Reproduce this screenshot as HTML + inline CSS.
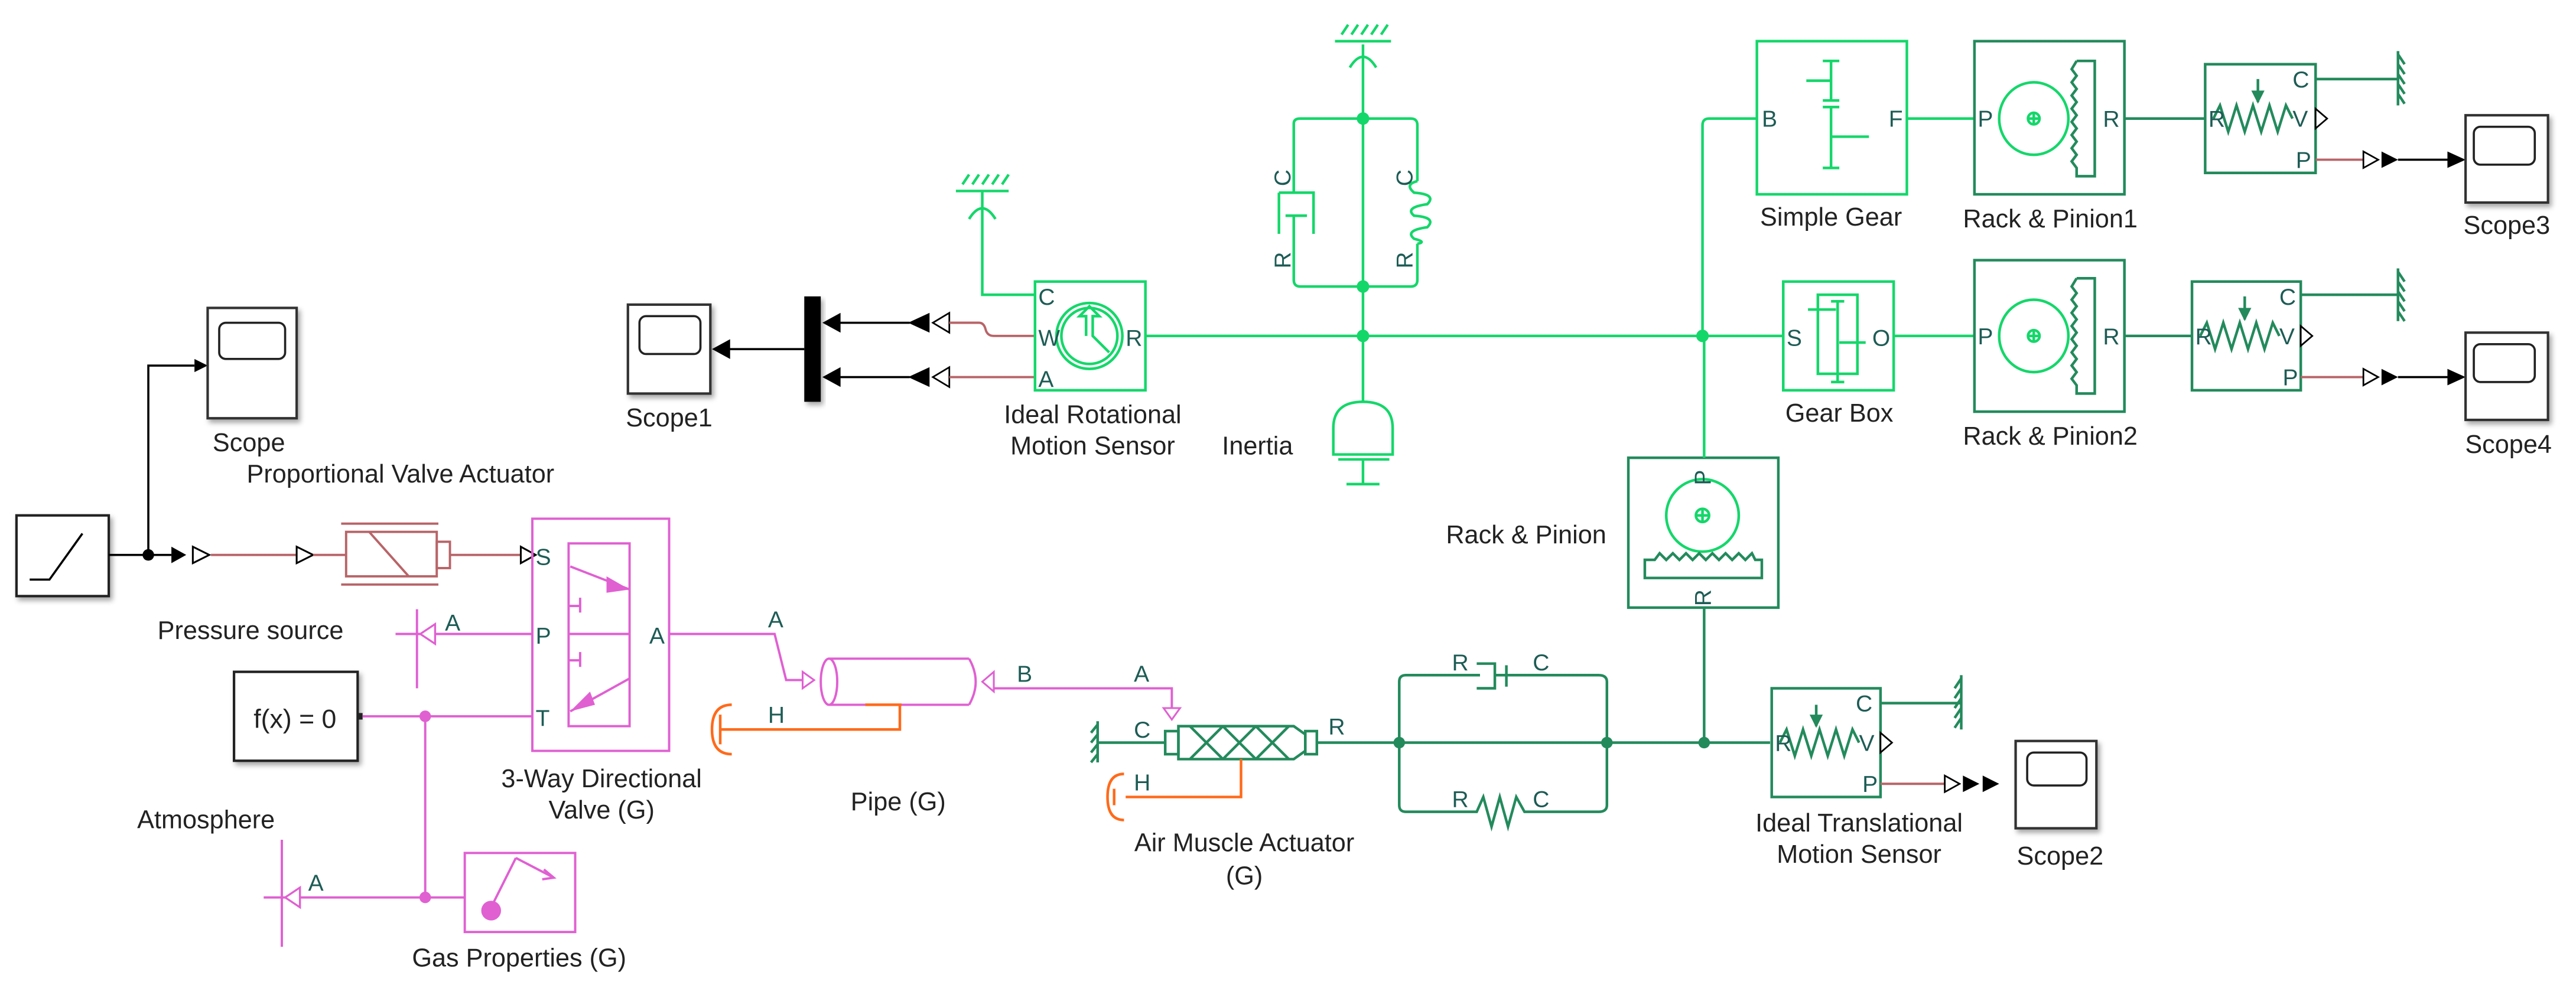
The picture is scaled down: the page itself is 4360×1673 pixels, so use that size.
<!DOCTYPE html>
<html><head><meta charset="utf-8"><style>
html,body{margin:0;padding:0;background:#fff;}
svg{display:block;}
text{font-family:"Liberation Sans",sans-serif;}
.lb{font-size:15.5px;fill:#222;text-anchor:middle;}
.pt{font-size:14px;fill:#1d5c55;}
.g{stroke:#14d76a;fill:none;stroke-width:1.6;}
.d{stroke:#238a5c;fill:none;stroke-width:1.6;}
.m{stroke:#e060d2;fill:none;stroke-width:1.4;}
.o{stroke:#ff6a1a;fill:none;stroke-width:1.6;}
.b{stroke:#b86468;fill:none;stroke-width:1.4;}
.k{stroke:#000;fill:none;stroke-width:1.3;}
</style></head><body>
<svg width="4360" height="1673" viewBox="0 0 1563 600" preserveAspectRatio="none" xmlns="http://www.w3.org/2000/svg">
<defs>
<filter id="sh" x="-20%" y="-20%" width="150%" height="150%"><feDropShadow dx="1.5" dy="2" stdDeviation="1.5" flood-color="#000" flood-opacity="0.35"/></filter>
</defs>

<!-- ===== Ramp & scope ===== -->
<rect x="10" y="313" width="56" height="49" fill="#fff" stroke="#222" stroke-width="1.5" filter="url(#sh)"/>
<polyline points="18,352 30,352 50,324" class="k"/>
<line x1="66" y1="337" x2="104" y2="337" class="k"/>
<circle cx="90" cy="337" r="3.5" fill="#000"/>
<polyline points="90,337 90,222 118,222" class="k"/>
<polygon points="118,218 126,222 118,226" fill="#000"/>
<rect x="126" y="187" width="54" height="67" fill="#fff" stroke="#333" stroke-width="1.5" filter="url(#sh)"/>
<rect x="133" y="196" width="40" height="22" rx="4" fill="#fff" stroke="#222" stroke-width="1.3"/>
<text x="151" y="274" class="lb">Scope</text>
<polygon points="104,332 113,337 104,342" fill="#000"/>
<polygon points="117,332 127,337 117,342" fill="#fff" stroke="#000" stroke-width="1.1"/>
<line x1="128" y1="337" x2="180" y2="337" class="b"/>
<polygon points="180,332 190,337 180,342" fill="#fff" stroke="#000" stroke-width="1.1"/>
<line x1="190" y1="337" x2="210" y2="337" class="b"/>
<!-- valve actuator -->
<text x="243" y="293" class="lb">Proportional  Valve Actuator</text>
<line x1="207" y1="318" x2="266" y2="318" class="b"/>
<line x1="207" y1="355" x2="266" y2="355" class="b"/>
<rect x="210" y="323" width="55" height="27" class="b"/>
<line x1="224" y1="323" x2="248" y2="350" class="b"/>
<rect x="265" y="329" width="8" height="16" class="b"/>
<line x1="273" y1="337" x2="316" y2="337" class="b"/>
<polygon points="316,332 325,337 316,342" fill="#fff" stroke="#000" stroke-width="1.1"/>

<!-- ===== 3-way valve ===== -->
<rect x="323" y="315" width="83" height="141" class="m" stroke-width="1.6"/>
<rect x="345" y="330" width="37" height="111" class="m"/>
<line x1="346" y1="344" x2="382" y2="358" class="m"/>
<polygon points="368,350 382,358 368,360" fill="#e060d2"/>
<line x1="345" y1="385" x2="382" y2="385" class="m"/>
<path d="M345,368 H352 M352,363 V372" class="m"/>
<path d="M345,401 H352 M352,396 V405" class="m"/>
<line x1="382" y1="412" x2="346" y2="432" class="m"/>
<polygon points="346,432 358,420 361,428" fill="#e060d2"/>
<text x="325" y="343" class="pt">S</text>
<text x="325" y="391" class="pt">P</text>
<text x="394" y="391" class="pt">A</text>
<text x="325" y="441" class="pt">T</text>
<text x="365" y="478" class="lb">3-Way Directional</text>
<text x="365" y="497" class="lb">Valve (G)</text>
<!-- pressure source -->
<text x="152" y="388" class="lb">Pressure source</text>
<line x1="253" y1="370" x2="253" y2="418" class="m"/>
<line x1="240" y1="385" x2="323" y2="385" class="m"/>
<polygon points="264,379 255,385 264,391" fill="#fff" stroke="#e060d2" stroke-width="1.2"/>
<text x="270" y="383" class="pt">A</text>
<!-- f(x)=0 -->
<rect x="142" y="408" width="75" height="54" fill="#fff" stroke="#222" stroke-width="1.5" filter="url(#sh)"/>
<text x="179" y="442" style="font-size:16px;fill:#222;text-anchor:middle">f(x) = 0</text>
<rect x="217" y="433" width="3" height="4" fill="#222"/>
<line x1="220" y1="435" x2="323" y2="435" class="m"/>
<circle cx="258" cy="435" r="3.5" fill="#e060d2"/>
<line x1="258" y1="435" x2="258" y2="545" class="m"/>
<circle cx="258" cy="545" r="3.5" fill="#e060d2"/>
<!-- atmosphere -->
<text x="125" y="503" class="lb">Atmosphere</text>
<line x1="171" y1="510" x2="171" y2="575" class="m"/>
<line x1="160" y1="545" x2="282" y2="545" class="m"/>
<polygon points="182,539 173,545 182,551" fill="#fff" stroke="#e060d2" stroke-width="1.2"/>
<text x="187" y="541" class="pt">A</text>
<!-- gas properties -->
<rect x="282" y="518" width="67" height="48" class="m" stroke-width="1.6"/>
<line x1="298" y1="551" x2="313" y2="521" class="m"/>
<line x1="313" y1="521" x2="336" y2="533" class="m"/>
<path d="M330,528 L336,533 L329,534" class="m"/>
<circle cx="298" cy="553" r="6" fill="#e060d2"/>
<text x="315" y="587" class="lb">Gas Properties (G)</text>

<!-- ===== Pipe ===== -->
<polyline points="406,385 470,385 477,413 490,413" class="m"/>
<text x="466" y="381" class="pt">A</text>
<polygon points="487,408 494,413 487,418" fill="#fff" stroke="#e060d2" stroke-width="1.1"/>
<line x1="503" y1="400" x2="588" y2="400" class="m" stroke-width="2"/>
<line x1="503" y1="428" x2="588" y2="428" class="m" stroke-width="2"/>
<line x1="525" y1="428" x2="547" y2="428" class="o" stroke-width="2.2"/>
<ellipse cx="503" cy="414" rx="5" ry="14" class="m"/>
<path d="M588,400 Q596,414 588,428" class="m"/>
<polygon points="603,408 596,414 603,420" fill="#fff" stroke="#e060d2" stroke-width="1.1"/>
<text x="617" y="414" class="pt">B</text>
<polyline points="603,418 711,418 711,430" class="m"/>
<text x="688" y="414" class="pt">A</text>
<polygon points="706,430 711,437 716,430" fill="#fff" stroke="#e060d2" stroke-width="1.1"/>
<polyline points="546,428 546,443 437,443" class="o"/>
<path d="M444,428 Q432,428 432,443 Q432,458 444,458" class="o"/>
<line x1="437" y1="434" x2="437" y2="452" class="o" stroke-width="2"/>
<text x="466" y="439" class="pt">H</text>
<text x="545" y="492" class="lb">Pipe (G)</text>

<!-- ===== Air muscle ===== -->
<line x1="666" y1="438" x2="666" y2="463" class="d"/>
<path d="M666,440 l-4,5 M666,446 l-4,5 M666,452 l-4,5 M666,458 l-4,5" class="d" stroke-width="1"/>
<line x1="666" y1="451" x2="707" y2="451" class="d"/>
<text x="688" y="448" class="pt">C</text>
<rect x="707" y="444" width="8" height="14" class="d"/>
<path d="M715,441 H785 L792,446 V456 L785,461 H715 Z" class="d"/>
<path d="M722,441 L742,461 M742,441 L762,461 M762,441 L782,461 M722,461 L742,441 M742,461 L762,441 M762,461 L782,441" class="d" stroke-width="1"/>
<rect x="792" y="444" width="7" height="14" class="d"/>
<text x="806" y="446" class="pt">R</text>
<polyline points="753,461 753,484 683,484" class="o"/>
<path d="M682,470 Q672,470 672,484 Q672,498 682,498" class="o"/>
<line x1="676" y1="479" x2="676" y2="489" class="o" stroke-width="2"/>
<text x="688" y="480" class="pt">H</text>
<text x="755" y="517" class="lb">Air Muscle Actuator</text>
<text x="755" y="537" class="lb">(G)</text>
<line x1="799" y1="451" x2="1074" y2="451" class="d" stroke-width="1.8"/>
<circle cx="849" cy="451" r="3.5" fill="#238a5c"/>
<circle cx="975" cy="451" r="3.5" fill="#238a5c"/>
<circle cx="1034" cy="451" r="3.5" fill="#238a5c"/>
<!-- damper / spring translational -->
<path d="M849,451 V414 Q849,410 853,410 H898 M914,410 H970 Q975,410 975,414 V451" class="d"/>
<path d="M896,403 H907 V418 H896 M907,410 H914 M914,404 V417" class="d"/>
<text x="881" y="407" class="pt">R</text>
<text x="930" y="407" class="pt">C</text>
<path d="M849,451 V489 Q849,493 853,493 H896 L900,484 L905,502 L910,484 L915,502 L920,484 L925,493 H970 Q975,493 975,489 V451" class="d"/>
<text x="881" y="490" class="pt">R</text>
<text x="930" y="490" class="pt">C</text>

<!-- ===== Ideal Translational Motion Sensor ===== -->
<rect x="1075" y="418" width="66" height="66" class="d" stroke-width="1.6"/>
<path d="M1080,451 L1084,443 L1089,459 L1094,443 L1099,459 L1104,443 L1109,459 L1114,443 L1119,459 L1124,443 L1128,451" class="d"/>
<line x1="1102" y1="428" x2="1102" y2="441" class="d"/>
<polygon points="1098,434 1102,442 1106,434" fill="#238a5c"/>
<text x="1126" y="432" class="pt">C</text>
<text x="1077" y="456" class="pt">R</text>
<text x="1128" y="456" class="pt">V</text>
<polygon points="1141,445 1148,451 1141,457" fill="#fff" stroke="#000" stroke-width="1"/>
<text x="1130" y="481" class="pt">P</text>
<line x1="1141" y1="427" x2="1190" y2="427" class="d"/>
<line x1="1190" y1="410" x2="1190" y2="443" class="d"/>
<path d="M1190,412 l-4,6 M1190,418 l-4,6 M1190,424 l-4,6 M1190,430 l-4,6 M1190,436 l-4,6" class="d" stroke-width="1"/>
<line x1="1141" y1="476" x2="1180" y2="476" class="b"/>
<polygon points="1180,471 1189,476 1180,481" fill="#fff" stroke="#000" stroke-width="1"/>
<polygon points="1191,471 1201,476 1191,481" fill="#000"/>
<polygon points="1203,471 1213,476 1203,481" fill="#000"/>
<rect x="1223" y="450" width="49" height="53" fill="#fff" stroke="#333" stroke-width="1.5" filter="url(#sh)"/>
<rect x="1230" y="457" width="36" height="20" rx="4" fill="#fff" stroke="#222" stroke-width="1.3"/>
<text x="1250" y="525" class="lb">Scope2</text>
<text x="1128" y="505" class="lb">Ideal Translational</text>
<text x="1128" y="524" class="lb">Motion Sensor</text>

<!-- ===== Rack & Pinion (vertical) ===== -->
<line x1="1034" y1="369" x2="1034" y2="451" class="d"/>
<rect x="988" y="278" width="91" height="91" class="d" stroke-width="1.6"/>
<circle cx="1033" cy="313" r="22" class="g"/>
<circle cx="1033" cy="313" r="4" class="g" stroke-width="1.2"/>
<path d="M1029,313 H1037 M1033,309 V317" class="g" stroke-width="1"/>
<path d="M998,351 V340 H1004 L1007,336 L1011,340 L1015,336 L1019,340 L1023,336 L1027,340 L1031,336 L1035,340 L1039,336 L1043,340 L1047,336 L1051,340 L1055,336 L1059,340 L1063,336 L1065,340 H1069 V351 Z" class="d"/>
<text transform="translate(1038,290) rotate(-90)" class="pt" style="text-anchor:middle">P</text>
<text transform="translate(1038,363) rotate(-90)" class="pt" style="text-anchor:middle">R</text>
<text x="926" y="330" class="lb">Rack &amp; Pinion</text>
<line x1="1034" y1="204" x2="1034" y2="278" class="g"/>

<!-- ===== Top: scope1, mux, rotational sensor ===== -->
<rect x="381" y="185" width="50" height="54" fill="#fff" stroke="#333" stroke-width="1.5" filter="url(#sh)"/>
<rect x="388" y="192" width="37" height="23" rx="4" fill="#fff" stroke="#222" stroke-width="1.3"/>
<text x="406" y="259" class="lb">Scope1</text>
<line x1="440" y1="212" x2="488" y2="212" class="k"/>
<polygon points="443,206 432,212 443,218" fill="#000"/>
<rect x="488" y="180" width="10" height="64" fill="#000" filter="url(#sh)"/>
<line x1="508" y1="196" x2="552" y2="196" class="k"/>
<line x1="508" y1="229" x2="552" y2="229" class="k"/>
<polygon points="510,190 499,196 510,202" fill="#000"/>
<polygon points="510,223 499,229 510,235" fill="#000"/>
<polygon points="564,190 551,196 564,202" fill="#000"/>
<polygon points="564,223 551,229 564,235" fill="#000"/>
<polygon points="576,190 566,196 576,202" fill="#fff" stroke="#000" stroke-width="1"/>
<polygon points="576,223 566,229 576,235" fill="#fff" stroke="#000" stroke-width="1"/>
<path d="M576,196 H594 Q597,196 598,200 Q599,204 603,204 H628" class="b"/>
<line x1="576" y1="229" x2="628" y2="229" class="b"/>
<!-- ground for sensor -->
<line x1="580" y1="116" x2="612" y2="116" class="g"/>
<path d="M584,112 l4,-6 M590,112 l4,-6 M596,112 l4,-6 M602,112 l4,-6 M608,112 l4,-6" class="g" stroke-width="1"/>
<path d="M588,133 Q596,120 604,133" class="g"/>
<polyline points="596,116 596,179 628,179" class="g"/>
<rect x="628" y="171" width="67" height="66" class="g" stroke-width="1.8"/>
<circle cx="661" cy="204" r="20" class="g"/>
<circle cx="661" cy="204" r="17" class="g" stroke-width="1"/>
<path d="M659,204 V192 H655 L661,186 L667,192 H663 V204 L673,214" class="g" stroke-width="1.3"/>
<text x="630" y="185" class="pt">C</text>
<text x="630" y="210" class="pt">W</text>
<text x="630" y="235" class="pt">A</text>
<text x="683" y="210" class="pt">R</text>
<text x="663" y="257" class="lb">Ideal Rotational</text>
<text x="663" y="276" class="lb">Motion Sensor</text>
<!-- main shaft -->
<line x1="695" y1="204" x2="1082" y2="204" class="g" stroke-width="1.8"/>
<circle cx="827" cy="204" r="3.8" fill="#14d76a"/>
<circle cx="1033" cy="204" r="3.8" fill="#14d76a"/>
<!-- inertia -->
<line x1="827" y1="204" x2="827" y2="244" class="g"/>
<path d="M809,276 V260 Q809,244 827,244 Q845,244 845,260 V276 Z" class="g"/>
<line x1="812" y1="279" x2="843" y2="279" class="g"/>
<line x1="827" y1="279" x2="827" y2="294" class="g"/>
<line x1="817" y1="294" x2="837" y2="294" class="g"/>
<text x="763" y="276" class="lb">Inertia</text>
<!-- rotational damper/spring -->
<circle cx="827" cy="72" r="3.8" fill="#14d76a"/>
<circle cx="827" cy="174" r="3.8" fill="#14d76a"/>
<line x1="827" y1="27" x2="827" y2="204" class="g"/>
<line x1="810" y1="25" x2="844" y2="25" class="g"/>
<path d="M814,21 l4,-6 M820,21 l4,-6 M826,21 l4,-6 M832,21 l4,-6 M838,21 l4,-6" class="g" stroke-width="1"/>
<path d="M819,41 Q827,28 835,41" class="g"/>
<path d="M785,117 V75 Q785,72 789,72 H856 Q860,72 860,76 V110" class="g"/>
<path d="M776,117 H797 V142 M776,117 V142 M780,131 H793 M785,131 V170 Q785,174 789,174 H856 Q860,174 860,170 V148" class="g"/>
<path d="M860,110 Q852,112 858,117 Q872,118 866,124 Q852,126 858,131 Q872,132 866,138 Q852,140 858,145 Q866,147 860,148" class="g"/>
<text transform="translate(783,108) rotate(-90)" class="pt" style="text-anchor:middle">C</text>
<text transform="translate(783,158) rotate(-90)" class="pt" style="text-anchor:middle">R</text>
<text transform="translate(857,108) rotate(-90)" class="pt" style="text-anchor:middle">C</text>
<text transform="translate(857,158) rotate(-90)" class="pt" style="text-anchor:middle">R</text>
<!-- B line -->
<path d="M1033,204 V76 Q1033,72 1037,72 H1066" class="g"/>

<!-- ===== Simple gear ===== -->
<rect x="1066" y="25" width="91" height="93" class="g" stroke-width="1.6"/>
<path d="M1111,37 V61 M1106,37 H1116 M1106,61 H1116 M1096,49 H1111 M1111,65 V102 M1106,65 H1116 M1106,102 H1116 M1111,83 H1134" class="g"/>
<text x="1069" y="77" class="pt">B</text>
<text x="1146" y="77" class="pt">F</text>
<text x="1111" y="137" class="lb">Simple Gear</text>
<line x1="1157" y1="72" x2="1198" y2="72" class="g"/>
<!-- Rack & pinion 1 -->
<rect x="1198" y="25" width="91" height="93" class="d" stroke-width="1.6"/>
<ellipse cx="1234" cy="72" rx="21" ry="22" class="g"/>
<circle cx="1234" cy="72" r="3.5" class="g" stroke-width="1"/>
<path d="M1231,72 H1237 M1234,69 V75" class="g" stroke-width="1"/>
<path d="M1260,37 H1271 V107 H1260 V102 L1257,98 L1260,94 L1257,90 L1260,86 L1257,82 L1260,78 L1257,74 L1260,70 L1257,66 L1260,62 L1257,58 L1260,54 L1257,50 L1260,46 L1257,42 L1260,37" class="d"/>
<text x="1200" y="77" class="pt">P</text>
<text x="1276" y="77" class="pt">R</text>
<text x="1244" y="138" class="lb">Rack &amp; Pinion1</text>
<line x1="1289" y1="72" x2="1338" y2="72" class="d"/>
<!-- sensor 3 -->
<rect x="1338" y="39" width="67" height="66" class="d" stroke-width="1.6"/>
<path d="M1343,72 L1347,64 L1352,80 L1357,64 L1362,80 L1367,64 L1372,80 L1377,64 L1382,80 L1387,64 L1391,72" class="d"/>
<line x1="1370" y1="48" x2="1370" y2="62" class="d"/>
<polygon points="1366,55 1370,63 1374,55" fill="#238a5c"/>
<text x="1391" y="53" class="pt">C</text>
<text x="1340" y="77" class="pt">R</text>
<text x="1391" y="77" class="pt">V</text>
<polygon points="1405,66 1412,72 1405,78" fill="#fff" stroke="#000" stroke-width="1"/>
<text x="1393" y="102" class="pt">P</text>
<line x1="1405" y1="48" x2="1455" y2="48" class="d"/>
<line x1="1455" y1="31" x2="1455" y2="64" class="d"/>
<path d="M1455,33 l4,6 M1455,39 l4,6 M1455,45 l4,6 M1455,51 l4,6 M1455,57 l4,6" class="d" stroke-width="1"/>
<line x1="1405" y1="97" x2="1434" y2="97" class="b"/>
<polygon points="1434,92 1443,97 1434,102" fill="#fff" stroke="#000" stroke-width="1"/>
<polygon points="1445,92 1455,97 1445,102" fill="#000"/>
<line x1="1455" y1="97" x2="1486" y2="97" class="k"/>
<polygon points="1485,92 1496,97 1485,102" fill="#000"/>
<rect x="1496" y="70" width="50" height="53" fill="#fff" stroke="#333" stroke-width="1.5" filter="url(#sh)"/>
<rect x="1501" y="77" width="37" height="23" rx="4" fill="#fff" stroke="#222" stroke-width="1.3"/>
<text x="1521" y="142" class="lb">Scope3</text>

<!-- ===== Gear box ===== -->
<rect x="1082" y="171" width="67" height="66" class="g" stroke-width="1.6"/>
<rect x="1103" y="179" width="24" height="48" class="g" stroke-width="1.3"/>
<path d="M1097,188 H1114 M1116,208 H1132" class="g" stroke-width="2.8"/>
<path d="M1115,183 V232 M1111,183 H1119 M1111,232 H1119" class="g" stroke-width="1.2"/>
<text x="1084" y="210" class="pt">S</text>
<text x="1136" y="210" class="pt">O</text>
<text x="1116" y="256" class="lb">Gear Box</text>
<line x1="1149" y1="204" x2="1198" y2="204" class="g"/>
<!-- Rack & pinion 2 -->
<rect x="1198" y="158" width="91" height="92" class="d" stroke-width="1.6"/>
<ellipse cx="1234" cy="204" rx="21" ry="22" class="g"/>
<circle cx="1234" cy="204" r="3.5" class="g" stroke-width="1"/>
<path d="M1231,204 H1237 M1234,201 V207" class="g" stroke-width="1"/>
<path d="M1260,169 H1271 V239 H1260 V234 L1257,230 L1260,226 L1257,222 L1260,218 L1257,214 L1260,210 L1257,206 L1260,202 L1257,198 L1260,194 L1257,190 L1260,186 L1257,182 L1260,178 L1257,174 L1260,169" class="d"/>
<text x="1200" y="209" class="pt">P</text>
<text x="1276" y="209" class="pt">R</text>
<text x="1244" y="270" class="lb">Rack &amp; Pinion2</text>
<line x1="1289" y1="204" x2="1330" y2="204" class="d"/>
<!-- sensor 4 -->
<rect x="1330" y="171" width="66" height="66" class="d" stroke-width="1.6"/>
<path d="M1335,204 L1339,196 L1344,212 L1349,196 L1354,212 L1359,196 L1364,212 L1369,196 L1374,212 L1379,196 L1383,204" class="d"/>
<line x1="1362" y1="180" x2="1362" y2="194" class="d"/>
<polygon points="1358,187 1362,195 1366,187" fill="#238a5c"/>
<text x="1383" y="185" class="pt">C</text>
<text x="1332" y="209" class="pt">R</text>
<text x="1383" y="209" class="pt">V</text>
<polygon points="1396,198 1403,204 1396,210" fill="#fff" stroke="#000" stroke-width="1"/>
<text x="1385" y="234" class="pt">P</text>
<line x1="1396" y1="179" x2="1455" y2="179" class="d"/>
<line x1="1455" y1="163" x2="1455" y2="195" class="d"/>
<path d="M1455,165 l4,6 M1455,171 l4,6 M1455,177 l4,6 M1455,183 l4,6 M1455,189 l4,6" class="d" stroke-width="1"/>
<line x1="1396" y1="229" x2="1434" y2="229" class="b"/>
<polygon points="1434,224 1443,229 1434,234" fill="#fff" stroke="#000" stroke-width="1"/>
<polygon points="1445,224 1455,229 1445,234" fill="#000"/>
<line x1="1455" y1="229" x2="1486" y2="229" class="k"/>
<polygon points="1485,224 1496,229 1485,234" fill="#000"/>
<rect x="1496" y="202" width="50" height="53" fill="#fff" stroke="#333" stroke-width="1.5" filter="url(#sh)"/>
<rect x="1501" y="209" width="37" height="23" rx="4" fill="#fff" stroke="#222" stroke-width="1.3"/>
<text x="1522" y="275" class="lb">Scope4</text>
</svg>
</body></html>
